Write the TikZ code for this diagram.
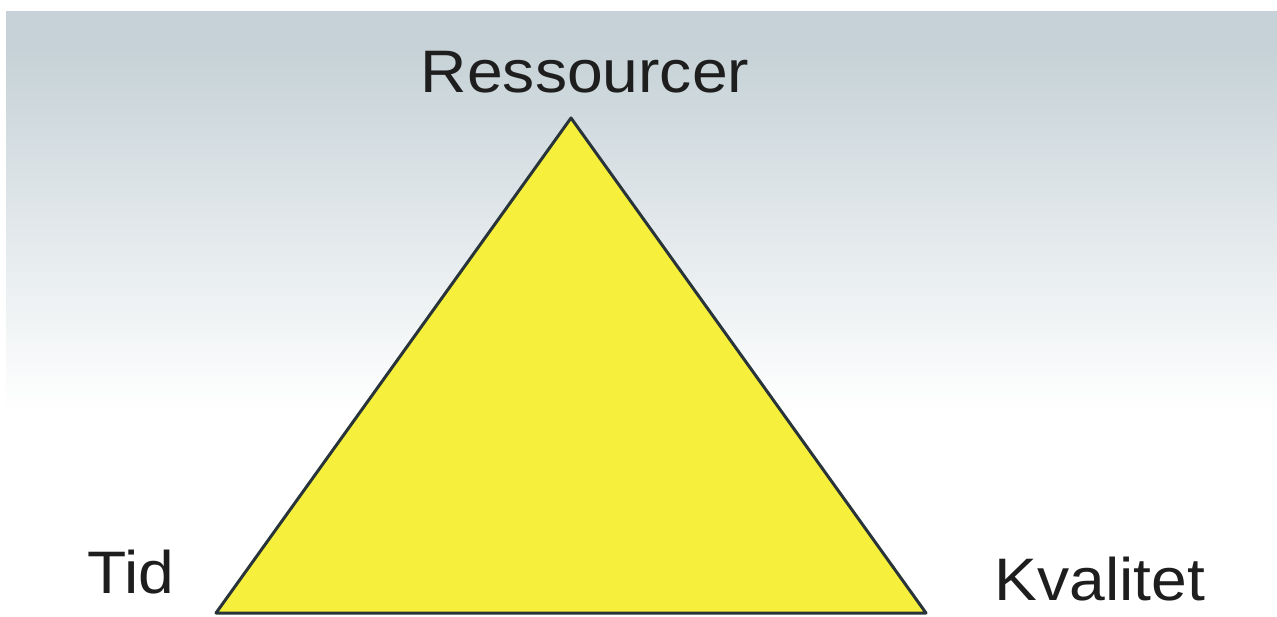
\documentclass[tikz,border=0pt]{standalone}
\usepackage{fontspec}
\newfontfamily\labfont[FakeStretch=1.07]{Liberation Sans}
\definecolor{bgtop}{RGB}{198,210,215}
\definecolor{triyellow}{RGB}{246,240,60}
\definecolor{triline}{RGB}{40,52,58}
\definecolor{txt}{RGB}{30,30,30}
\pgfdeclareverticalshading{bgshade}{100bp}{color(0bp)=(white); color(42bp)=(white); color(72bp)=(bgtop); color(100bp)=(bgtop)}
\tikzset{lab/.style={font=\labfont\fontsize{60}{72}\selectfont, text=txt, inner sep=0pt, anchor=base}}
\begin{document}
\begin{tikzpicture}[x=1pt,y=-1pt]
\useasboundingbox (0,0) rectangle (1277,617);
\fill[white] (0,0) rectangle (1277,617);
\shade[shading=bgshade] (6,12) rectangle (1277,617);
\coordinate (A) at (571,118);
\coordinate (B) at (216,613);
\coordinate (C) at (926,613);
\draw[triline, fill=triyellow, line width=3pt, line join=round] (A) -- (B) -- (C) -- cycle;
\node[lab] (res) at (585,93) {Ressourcer};
\node[lab] (tid) at (131,593) {Tid};
\node[lab] (kval) at (1100,600) {Kvalitet};
\end{tikzpicture}
\end{document}
